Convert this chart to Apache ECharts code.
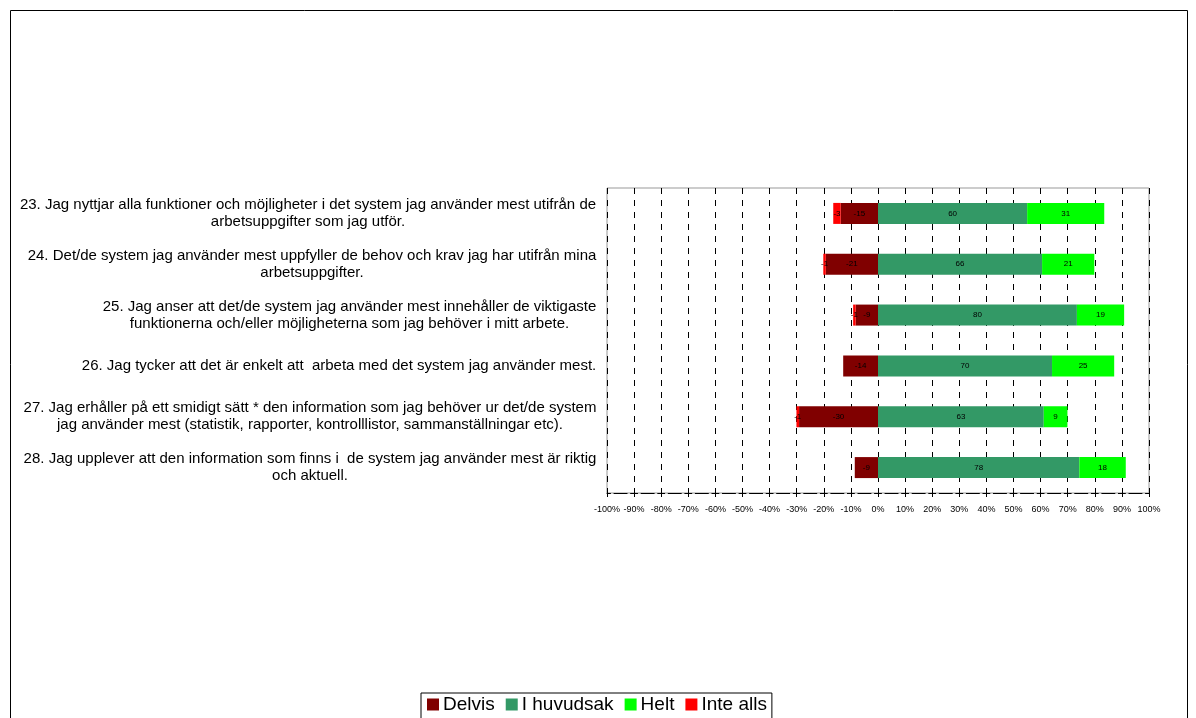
<!DOCTYPE html>
<html><head><meta charset="utf-8">
<script src="https://cdn.jsdelivr.net/npm/echarts@6/dist/echarts.min.js"></script>
<style>html,body{margin:0;padding:0;background:#fff}#c{width:1196px;height:718px}</style>
</head><body><div id="c"></div>
<script>
const categories = [
  "23. Jag nyttjar alla funktioner och möjligheter i det system jag använder mest utifrån de\narbetsuppgifter som jag utför.",
  "24. Det/de system jag använder mest uppfyller de behov och krav jag har utifrån mina\narbetsuppgifter.",
  "25. Jag anser att det/de system jag använder mest innehåller de viktigaste\nfunktionerna och/eller möjligheterna som jag behöver i mitt arbete.",
  "26. Jag tycker att det är enkelt att  arbeta med det system jag använder mest.",
  "27. Jag erhåller på ett smidigt sätt * den information som jag behöver ur det/de system\njag använder mest (statistik, rapporter, kontrolllistor, sammanställningar etc).",
  "28. Jag upplever att den information som finns i  de system jag använder mest är riktig\noch aktuell."
];
const delvis   = [-15, -21, -9, -14, -30, -9];
const huvudsak = [60, 66, 80, 70, 63, 78];
const helt     = [31, 21, 19, 25, 9, 18];
const inteAlls = [-3, -1, -1, 0, -1, 0];
const seriesNames = ["Delvis", "I huvudsak", "Helt", "Inte alls"];
const seriesColors = ["#800000", "#339966", "#00ff00", "#ff0000"];

const all = [delvis, huvudsak, helt, inteAlls];
const rowSum = categories.map((_, i) => all.reduce((s, a) => s + Math.abs(a[i]), 0));
function toData(arr) {
  return arr.map((v, i) => v === 0 ? { value: null, raw: v } : { value: v / rowSum[i] * 100, raw: v });
}

const FAM = '"Liberation Sans", Arial, sans-serif';
const FS = 15;
const cv = document.createElement('canvas').getContext('2d');
cv.font = FS + 'px ' + FAM;
const rich = {};
categories.forEach((c, i) => {
  const w = Math.max(...c.split('\n').map(l => cv.measureText(l).width));
  rich['r' + i] = { width: Math.ceil(w) + 1, align: 'center', fontSize: FS, lineHeight: 17, color: '#000', fontFamily: FAM };
});

const chart = echarts.init(document.getElementById('c'), null, { renderer: 'canvas' });
const period = 542 / 20;
chart.setOption({
  animation: false,
  textStyle: { fontFamily: FAM },
  graphic: [{ type: 'rect', shape: { x: 10.5, y: 10.5, width: 1177, height: 730 },
    style: { fill: 'none', stroke: '#000', lineWidth: 1 }, z: -10 }],
  grid: { left: 607, right: 47, top: 188, bottom: 225, show: true, borderColor: '#999', borderWidth: 1 },
  legend: {
    data: seriesNames, top: 693, left: 421, itemWidth: 12, itemHeight: 12, itemGap: 11,
    icon: 'rect', borderColor: '#000', borderWidth: 1, padding: [2, 5, 8, 6],
    textStyle: { fontSize: 19, color: '#000', padding: [0, 0, 0, -1] }
  },
  xAxis: [{
    type: 'value', min: -100, max: 100, interval: 10, position: 'bottom',
    axisLabel: { formatter: '{value}%', fontSize: 9, color: '#000', margin: 12 },
    axisLine: { show: true, lineStyle: { color: '#000', width: 1, type: [period - 14, 3.5, 7, 3.5], dashOffset: period - 7 } },
    axisTick: { show: true, length: 4, lineStyle: { color: '#000' } },
    splitLine: { show: true, lineStyle: { color: '#000', width: 1, type: [6, 6] } }
  }, {
    type: 'value', min: -100, max: 100, interval: 10, position: 'bottom',
    axisLabel: { show: false }, axisLine: { show: false }, splitLine: { show: false },
    axisTick: { show: true, inside: true, length: 4, lineStyle: { color: '#000' } }
  }],
  yAxis: {
    type: 'category', data: categories, inverse: true,
    axisLine: { show: false }, axisTick: { show: false },
    axisLabel: {
      margin: 10, align: 'right',
      formatter: (v, i) => v.split('\n').map(l => '{r' + i + '|' + l + '}').join('\n'),
      rich: rich
    }
  },
  series: all.map((arr, k) => ({
    name: seriesNames[k], type: 'bar', stack: 'total', barWidth: 21,
    itemStyle: { color: seriesColors[k] },
    label: { show: true, position: 'inside', fontSize: 8, color: '#000',
      formatter: p => (p.data && p.data.raw) ? String(p.data.raw) : '' },
    data: toData(arr)
  }))
});
</script></body></html>
